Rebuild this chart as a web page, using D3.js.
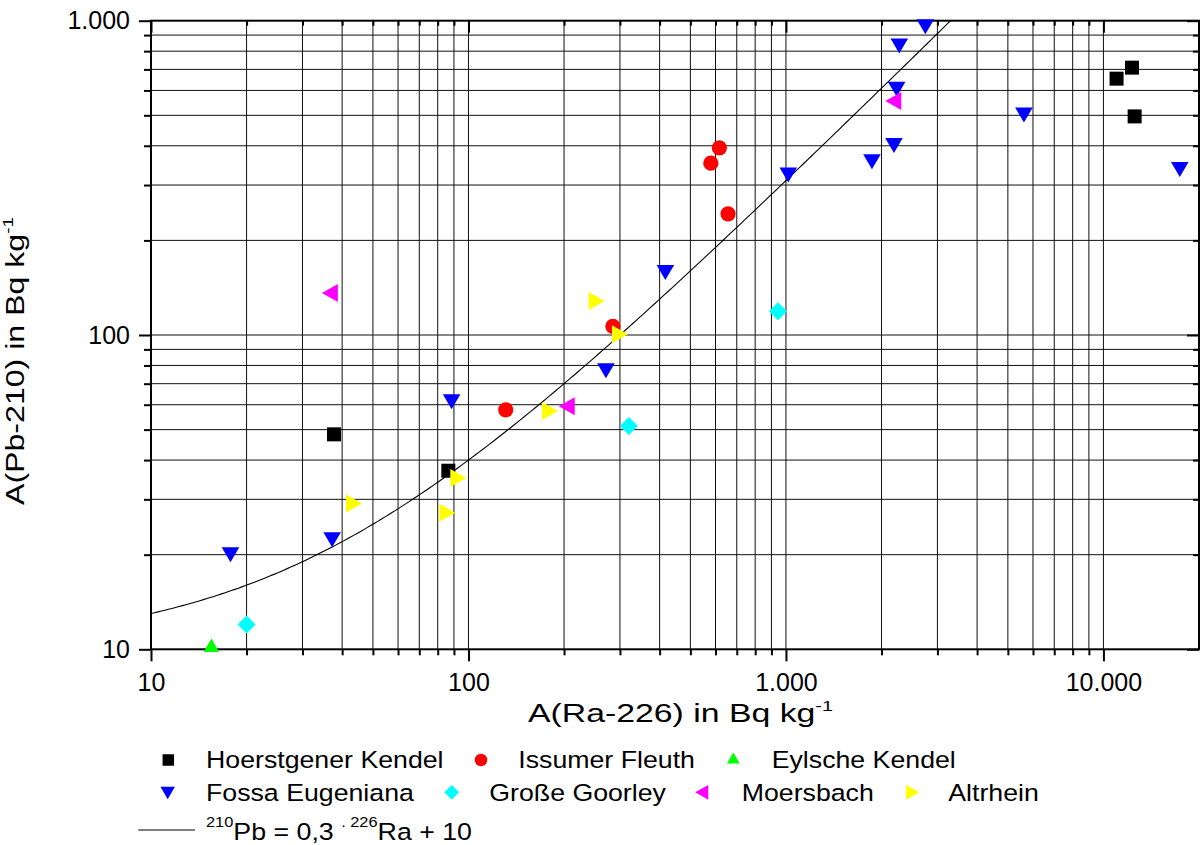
<!DOCTYPE html>
<html>
<head>
<meta charset="utf-8">
<script src="https://cdn.jsdelivr.net/npm/d3@7"></script>
<style>
  body { margin: 0; background: #fff; }
  text { font-family: "Liberation Sans", Arial, sans-serif; fill: #000; }
</style>
</head>
<body>
<svg id="chart" width="1203" height="845"></svg>
<script>
// ---- data: A(Ra-226) vs A(Pb-210), Bq/kg ----
const hoerstgenerRa = [37.7, 86.4, 11000, 12300, 12540];
const hoerstgenerPb = [48.3, 37.0, 654, 709, 496];

const issumerRa = [131, 285, 580, 617, 657];
const issumerPb = [57.8, 106.6, 352, 394, 243];

const eylscheRa = [15.5];
const eylschePb = [10.3];

const fossaRa = [17.8, 37.2, 88.5, 271, 417, 1017, 1866, 2189, 2232, 2275, 2748, 5619, 17400];
const fossaPb = [20.0, 22.3, 61.3, 76.9, 158, 323, 356, 401, 605, 831, 957, 501, 336];

const goorleyRa = [20.0, 320, 944];
const goorleyPb = [12.0, 51.3, 119];

const moersbachRa = [36.6, 204, 2178];
const moersbachPb = [136, 59.3, 555];

const altrheinRa = [43.6, 85.8, 92.9, 180.6, 253.4, 300];
const altrheinPb = [29.1, 27.2, 35.1, 57.3, 128.3, 100.5];

const seriesNames = ["Hoerstgener Kendel", "Issumer Fleuth", "Eylsche Kendel",
  "Fossa Eugeniana", "Große Goorley", "Moersbach", "Altrhein"];

const xMajorTicks = [10, 100, 1000, 10000];
const xTickLabels = ["10", "100", "1.000", "10.000"];
const yMajorTicks = [10, 100, 1000];
const yTickLabels = ["10", "100", "1.000"];

// fit: 210Pb = 0,3 * 226Ra + 10
const fitSlope = 0.3;
const fitOffset = 10;

// ---- series table ----
const series = [
  { name: seriesNames[0], ra: hoerstgenerRa, pb: hoerstgenerPb, sym: "square",  color: "#000000" },
  { name: seriesNames[1], ra: issumerRa,     pb: issumerPb,     sym: "circle",  color: "#ff0000" },
  { name: seriesNames[2], ra: eylscheRa,     pb: eylschePb,     sym: "up",      color: "#00ff00" },
  { name: seriesNames[3], ra: fossaRa,       pb: fossaPb,       sym: "down",    color: "#0000ff" },
  { name: seriesNames[4], ra: goorleyRa,     pb: goorleyPb,     sym: "diamond", color: "#00ffff" },
  { name: seriesNames[5], ra: moersbachRa,   pb: moersbachPb,   sym: "left",    color: "#ff00ff" },
  { name: seriesNames[6], ra: altrheinRa,    pb: altrheinPb,    sym: "right",   color: "#ffff00" }
];

// ---- layout ----
const svg = d3.select("#chart");
const L = 151, R = 1199, T = 20.7, B = 649.3;

const x = d3.scaleLog().domain([10, 20000]).range([L, R]);
const y = d3.scaleLog().domain([10, 1000]).range([B, T]);

const xAll = x.ticks().filter(v => v > 10 && v < 20000);
const yAll = y.ticks().filter(v => v > 10 && v < 1000);
const xMinor = x.ticks().filter(v => !xMajorTicks.includes(v) && v < 20000);
const yMinor = y.ticks().filter(v => !yMajorTicks.includes(v));

// grid
const grid = svg.append("g").attr("stroke", "#111").attr("stroke-width", 1);
grid.selectAll("line.gx").data(xAll).join("line")
  .attr("x1", d => x(d)).attr("x2", d => x(d)).attr("y1", T).attr("y2", B);
grid.selectAll("line.gy").data(yAll).join("line")
  .attr("x1", L).attr("x2", R).attr("y1", d => y(d)).attr("y2", d => y(d));

// fit curve
svg.append("clipPath").attr("id", "plotClip")
  .append("rect").attr("x", L).attr("y", T).attr("width", R - L).attr("height", B - T);
const fitRa = d3.range(0, 301).map(i => 10 * Math.pow(2000, i / 300));
svg.append("path")
  .attr("clip-path", "url(#plotClip)")
  .attr("fill", "none").attr("stroke", "#000").attr("stroke-width", 1.1)
  .attr("d", d3.line().x(d => x(d)).y(d => y(fitSlope * d + fitOffset))(fitRa));

// axes
function styleAxis(g) {
  g.select(".domain").remove();
  g.selectAll(".tick line").attr("stroke", "#000").attr("stroke-width", 2);
  g.selectAll(".tick text").style("font-size", "25px").attr("fill", "#000");
}
const fmtX = d => xTickLabels[xMajorTicks.indexOf(d)];
const fmtY = d => yTickLabels[yMajorTicks.indexOf(d)];

svg.append("g").attr("transform", `translate(0,${B})`)
  .call(d3.axisBottom(x).tickValues(xMinor).tickSize(6).tickFormat("")).call(styleAxis);
svg.append("g").attr("transform", `translate(0,${B})`)
  .call(d3.axisBottom(x).tickValues(xMajorTicks).tickSize(12).tickPadding(12).tickFormat(fmtX))
  .call(styleAxis);
svg.append("g").attr("transform", `translate(0,${T})`)
  .call(d3.axisTop(x).tickValues(xMinor).tickSize(-5).tickFormat("")).call(styleAxis);
svg.append("g").attr("transform", `translate(0,${T})`)
  .call(d3.axisTop(x).tickValues(xMajorTicks).tickSize(-12).tickFormat("")).call(styleAxis);

svg.append("g").attr("transform", `translate(${L},0)`)
  .call(d3.axisLeft(y).tickValues(yMinor).tickSize(7).tickFormat("")).call(styleAxis);
svg.append("g").attr("transform", `translate(${L},0)`)
  .call(d3.axisLeft(y).tickValues(yMajorTicks).tickSize(12).tickPadding(9).tickFormat(fmtY))
  .call(styleAxis);
svg.append("g").attr("transform", `translate(${R},0)`)
  .call(d3.axisRight(y).tickValues(yMinor).tickSize(-6).tickFormat("")).call(styleAxis);
svg.append("g").attr("transform", `translate(${R},0)`)
  .call(d3.axisRight(y).tickValues(yMajorTicks).tickSize(-12).tickFormat("")).call(styleAxis);

// frame
svg.append("rect").attr("x", L).attr("y", T).attr("width", R - L).attr("height", B - T)
  .attr("fill", "none").attr("stroke", "#000").attr("stroke-width", 2);

// symbols
function symPath(type, k) {
  const s = v => v * k;
  switch (type) {
    case "square":  return `M${s(-7)},${s(-7)}H${s(7)}V${s(7)}H${s(-7)}Z`;
    case "circle":  { const r = s(7.6); return `M${r},0A${r},${r} 0 1 1 ${-r},0A${r},${r} 0 1 1 ${r},0Z`; }
    case "down":    return `M${s(-8.8)},${s(-7.5)}L${s(8.8)},${s(-7.5)}L0,${s(7.5)}Z`;
    case "up":      return `M${s(-7.8)},${s(6.8)}L${s(7.8)},${s(6.8)}L0,${s(-6.8)}Z`;
    case "diamond": return `M0,${s(-9)}L${s(9)},0L0,${s(9)}L${s(-9)},0Z`;
    case "left":    return `M${s(-8)},0L${s(8)},${s(-9)}L${s(8)},${s(9)}Z`;
    case "right":   return `M${s(8)},0L${s(-8)},${s(-9)}L${s(-8)},${s(9)}Z`;
  }
}

const marks = svg.append("g");
series.forEach(sr => {
  marks.append("g").selectAll("path")
    .data(sr.ra.map((r, i) => [r, sr.pb[i]]))
    .join("path")
    .attr("transform", d => `translate(${x(d[0])},${y(d[1])})`)
    .attr("d", symPath(sr.sym, 1))
    .attr("fill", sr.color);
});

function stretch(sel, target) {
  sel.attr("textLength", target).attr("lengthAdjust", "spacingAndGlyphs");
}

// axis titles
const xt = svg.append("text").attr("x", 528).attr("y", 722).style("font-size", "25.5px");
xt.append("tspan").text("A(Ra-226) in Bq kg");
xt.append("tspan").attr("dy", -11).style("font-size", "15px").text("-1");
stretch(xt, 305);

const yt = svg.append("text").attr("transform", "translate(23.5,505) rotate(-90)").style("font-size", "25.5px");
yt.append("tspan").text("A(Pb-210) in Bq kg");
yt.append("tspan").attr("dy", -11).style("font-size", "15px").text("-1");
stretch(yt, 288);

// legend
const legendPos = [
  { mx: 168.3, my: 760,   tx: 206,   ty: 767.5, w: 238 },
  { mx: 481,   my: 760,   tx: 518.3, ty: 767.5, w: 177 },
  { mx: 733.3, my: 758,   tx: 771.7, ty: 767.5, w: 183 },
  { mx: 167.7, my: 793,   tx: 206,   ty: 800.7, w: 208 },
  { mx: 451.7, my: 792.3, tx: 489.3, ty: 800.7, w: 176 },
  { mx: 701.7, my: 792.3, tx: 741.7, ty: 800.7, w: 131 },
  { mx: 912.7, my: 792.3, tx: 948.3, ty: 800.7, w: 90 }
];
const lg = svg.append("g");
series.forEach((sr, i) => {
  const p = legendPos[i];
  lg.append("path").attr("transform", `translate(${p.mx},${p.my})`)
    .attr("d", symPath(sr.sym, 0.82)).attr("fill", sr.color);
  const t = lg.append("text").attr("x", p.tx).attr("y", p.ty).style("font-size", "24.5px").text(sr.name);
  const w = t.node().getComputedTextLength();
  stretch(t, w * 1.09);
});

lg.append("line").attr("x1", 138.3).attr("x2", 195).attr("y1", 830).attr("y2", 830)
  .attr("stroke", "#000").attr("stroke-width", 1.1);
const ft = lg.append("text").attr("x", 206).attr("y", 840).style("font-size", "24.5px");
ft.append("tspan").attr("dy", -13).style("font-size", "15px").text("210");
ft.append("tspan").attr("dy", 13).text("Pb = 0,3 ");
ft.append("tspan").attr("dy", -13).style("font-size", "15px").text(". 226");
ft.append("tspan").attr("dy", 13).text("Ra + 10");
stretch(ft, 266);
</script>
</body>
</html>
